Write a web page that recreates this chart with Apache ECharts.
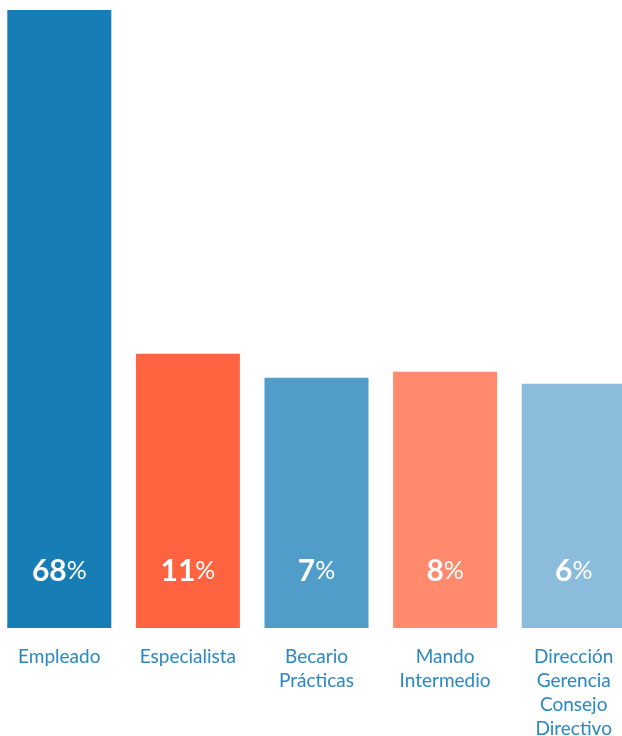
<!DOCTYPE html>
<html>
<head>
<meta charset="utf-8">
<script src="https://cdn.jsdelivr.net/npm/echarts@6/dist/echarts.min.js"></script>
<style>
  html, body { margin: 0; padding: 0; background: #ffffff; }
  #chart { width: 622px; height: 736px; }
</style>
</head>
<body>
<div id="chart"></div>
<script>
// Distribución por puesto (porcentaje)
const categories = ['Empleado', 'Especialista', 'Becario\nPrácticas', 'Mando\nIntermedio', 'Dirección\nGerencia\nConsejo\nDirectivo'];
const values = [68, 11, 7, 8, 6];
const colors = ['#177db5', '#ff6340', '#4f9dc8', '#ff8a6e', '#8bbcdb'];

const chart = echarts.init(document.getElementById('chart'));
const FONT = 'Lato, "Open Sans", sans-serif';

chart.setOption({
  animation: false,
  grid: { left: -5, right: -16, top: 10, bottom: 108, outerBoundsMode: 'none', containLabel: false },
  xAxis: {
    type: 'category',
    data: categories,
    axisLine: { show: false },
    axisTick: { show: false },
    axisLabel: {
      interval: 0,
      margin: 17,
      color: '#2a87c0',
      fontFamily: FONT,
      fontSize: 19,
      lineHeight: 24
    }
  },
  yAxis: {
    type: 'value',
    min: -34.5,
    max: 68,
    startValue: -34.5,
    show: false,
    splitLine: { show: false }
  },
  series: [{
    type: 'bar',
    barWidth: 104,
    data: values.map((v, i) => ({ value: v, itemStyle: { color: colors[i] } })),
    label: {
      show: true,
      position: 'insideBottom',
      distance: 42,
      formatter: p => '{n|' + p.value + '}{p|%}',
      rich: {
        n: { color: '#ffffff', fontFamily: FONT, fontWeight: 'bold', fontSize: 30 },
        p: { color: '#ffffff', fontFamily: FONT, fontWeight: 'normal', fontSize: 25 }
      }
    }
  }]
});
</script>
</body>
</html>
